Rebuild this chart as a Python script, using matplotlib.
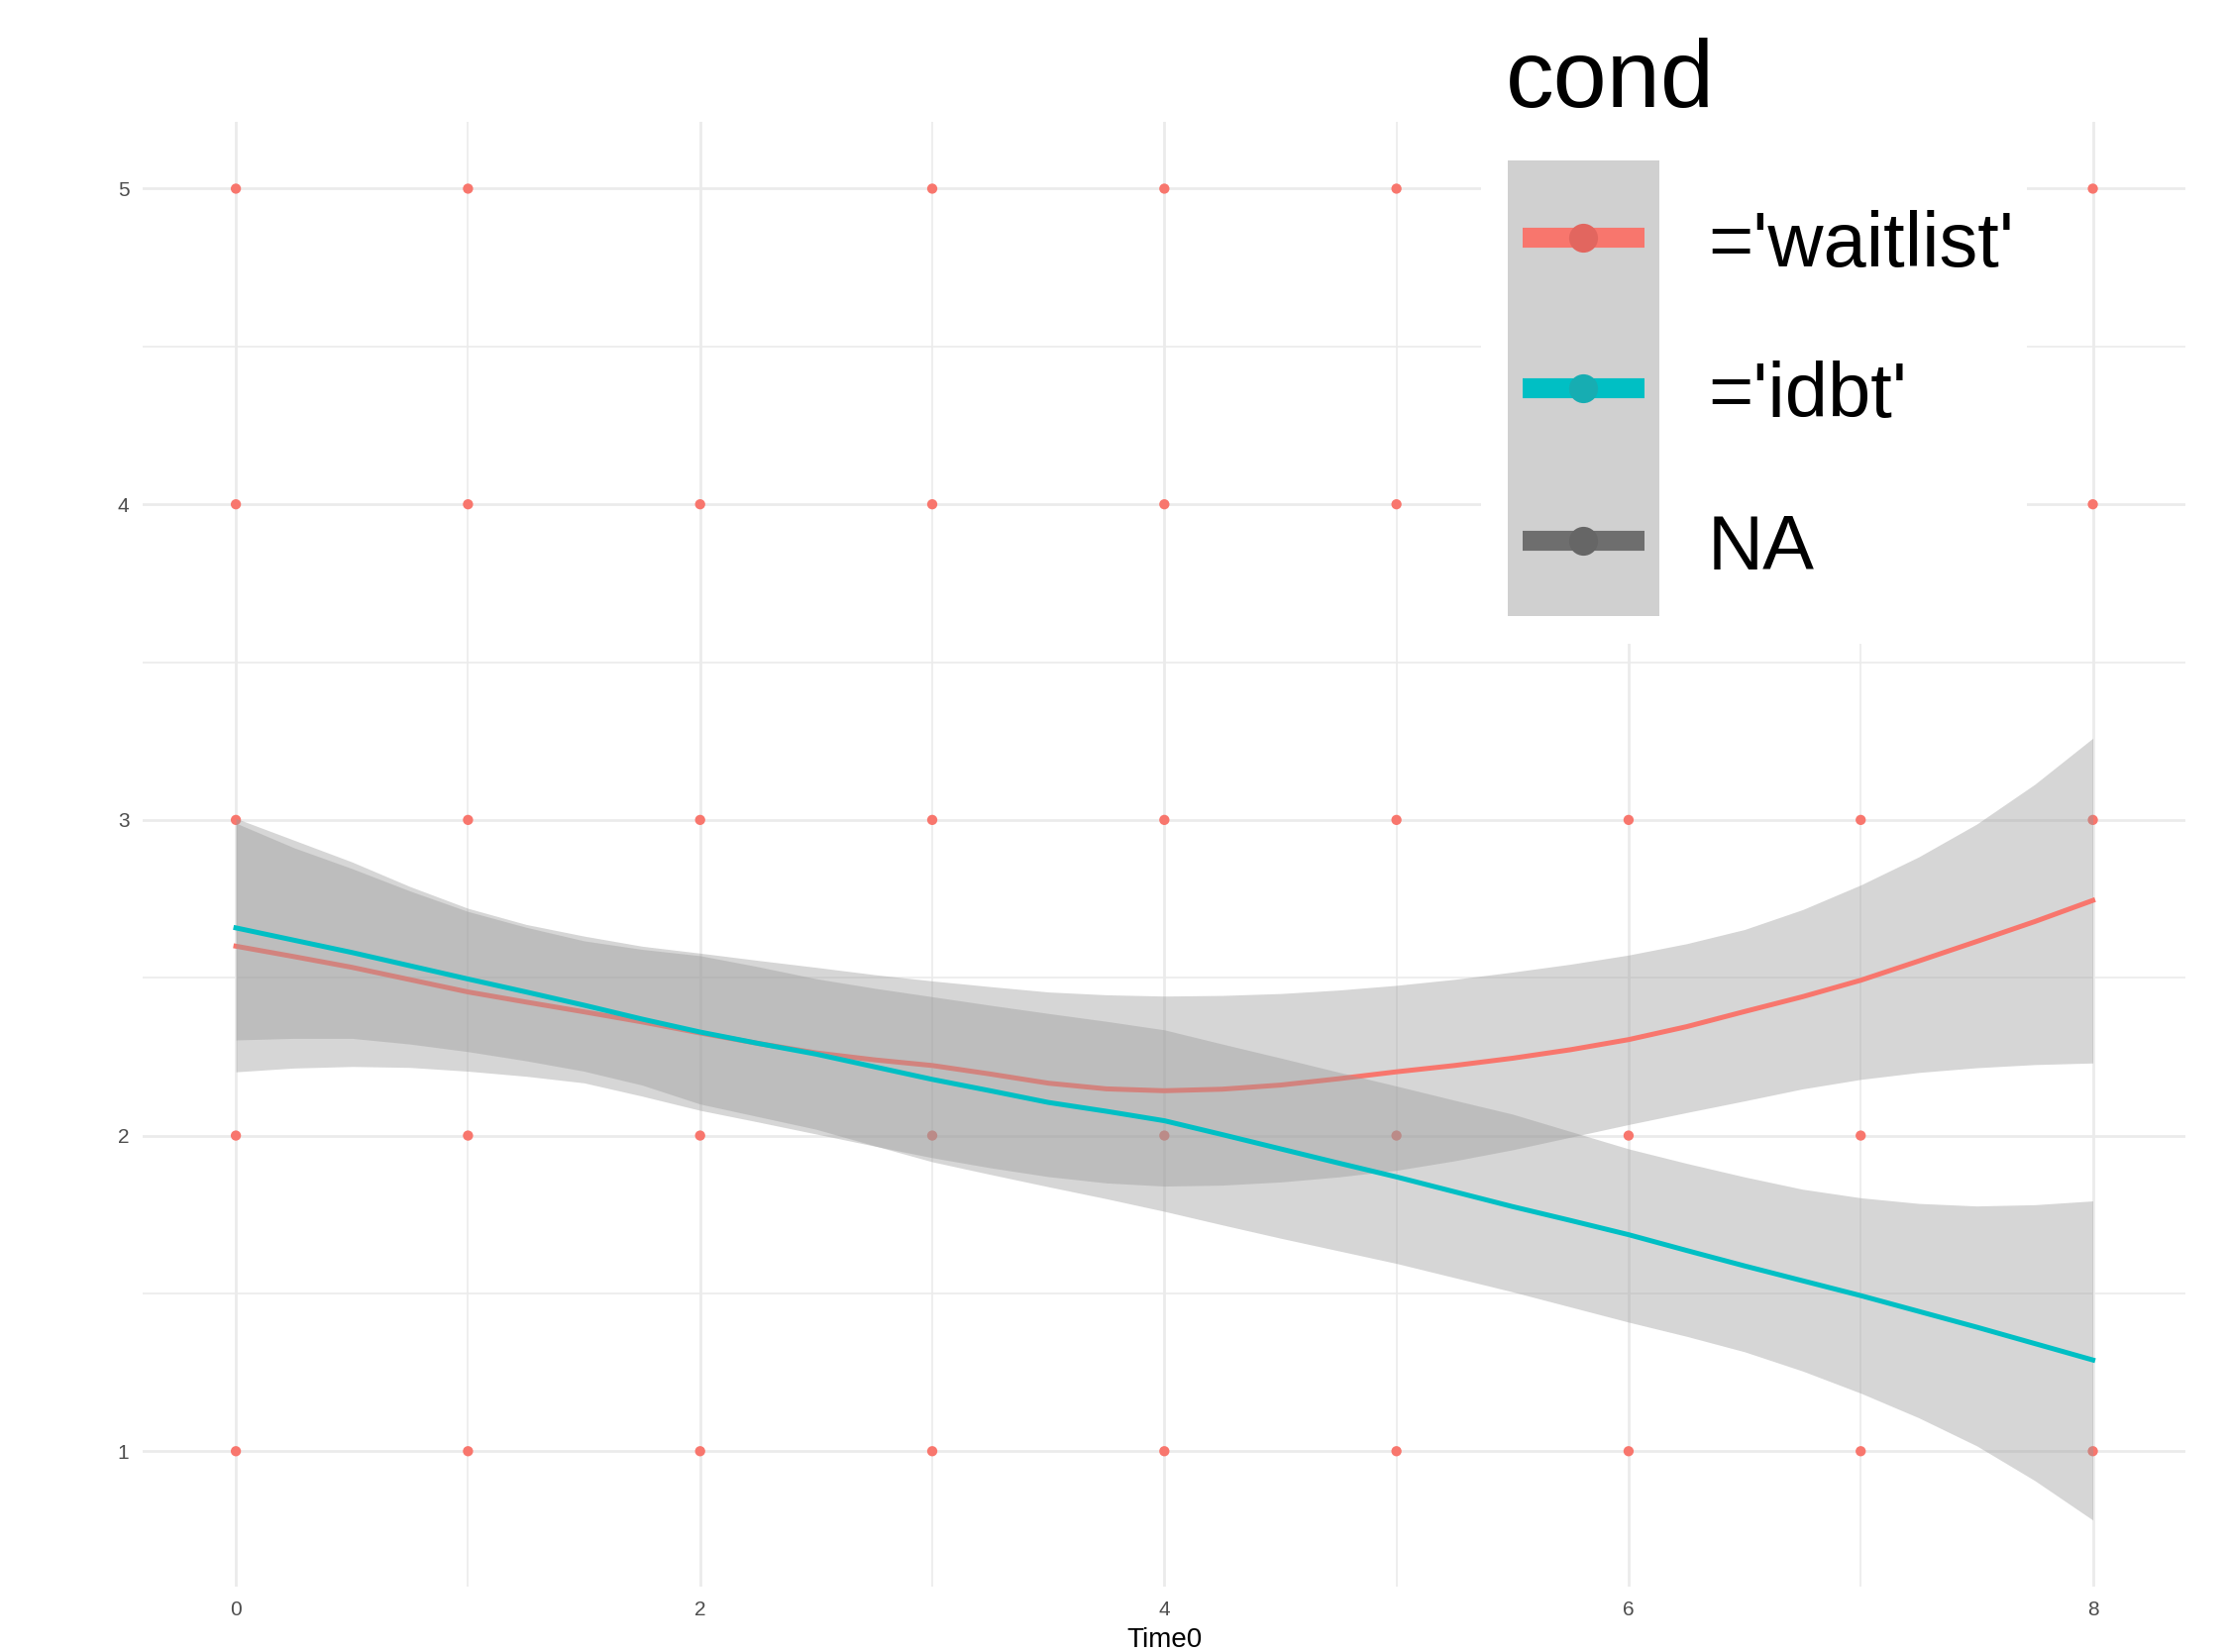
import numpy as np
import matplotlib
matplotlib.use("Agg")
import matplotlib.pyplot as plt
from matplotlib.patches import Rectangle
from matplotlib.lines import Line2D

plt.rcParams['font.family'] = ['Liberation Sans', 'DejaVu Sans']

# raw observations (only the ones visible in the picture)
point_x = [0, 1, 3, 4, 5, 8,
           0, 1, 2, 3, 4, 5, 8,
           0, 1, 2, 3, 4, 5, 6, 7, 8,
           0, 1, 2, 3, 4, 5, 6, 7,
           0, 1, 2, 3, 4, 5, 6, 7, 8]
point_y = [5, 5, 5, 5, 5, 5,
           4, 4, 4, 4, 4, 4, 4,
           3, 3, 3, 3, 3, 3, 3, 3, 3,
           2, 2, 2, 2, 2, 2, 2, 2,
           1, 1, 1, 1, 1, 1, 1, 1, 1]

# smoothed fits, every quarter step of Time0
time0 = [0, 0.25, 0.5, 0.75, 1, 1.25, 1.5, 1.75, 2, 2.25, 2.5, 2.75, 3,
         3.25, 3.5, 3.75, 4, 4.25, 4.5, 4.75, 5, 5.25, 5.5, 5.75, 6,
         6.25, 6.5, 6.75, 7, 7.25, 7.5, 7.75, 8]

waitlist_fit = [2.600, 2.567, 2.533, 2.494, 2.455, 2.423, 2.392, 2.360, 2.325,
                2.292, 2.262, 2.240, 2.222, 2.195, 2.166, 2.148, 2.142, 2.147,
                2.160, 2.180, 2.202, 2.222, 2.245, 2.272, 2.304, 2.345, 2.393,
                2.440, 2.492, 2.553, 2.615, 2.678, 2.745]
waitlist_hi = [3.005, 2.936, 2.867, 2.789, 2.720, 2.669, 2.632, 2.600, 2.578,
               2.555, 2.533, 2.510, 2.490, 2.472, 2.455, 2.446, 2.442, 2.444,
               2.450, 2.461, 2.476, 2.495, 2.518, 2.543, 2.572, 2.608, 2.653,
               2.716, 2.794, 2.883, 2.987, 3.113, 3.259]
waitlist_lo = [2.202, 2.214, 2.219, 2.216, 2.204, 2.188, 2.167, 2.125, 2.080,
               2.043, 2.005, 1.967, 1.930, 1.898, 1.870, 1.850, 1.840, 1.843,
               1.853, 1.869, 1.890, 1.920, 1.955, 1.995, 2.035, 2.073, 2.110,
               2.148, 2.178, 2.200, 2.215, 2.225, 2.230]

idbt_fit = [2.658, 2.619, 2.580, 2.538, 2.496, 2.455, 2.413, 2.369, 2.328,
            2.292, 2.258, 2.218, 2.178, 2.142, 2.105, 2.077, 2.047, 2.003,
            1.958, 1.913, 1.869, 1.822, 1.775, 1.731, 1.686, 1.636, 1.587,
            1.540, 1.493, 1.443, 1.393, 1.341, 1.289]
idbt_hi = [2.990, 2.912, 2.846, 2.775, 2.710, 2.660, 2.617, 2.590, 2.570,
           2.535, 2.497, 2.467, 2.440, 2.413, 2.387, 2.362, 2.335, 2.290,
           2.246, 2.201, 2.157, 2.112, 2.068, 2.013, 1.958, 1.912, 1.869,
           1.830, 1.803, 1.785, 1.777, 1.781, 1.793]
idbt_lo = [2.303, 2.308, 2.308, 2.290, 2.266, 2.237, 2.204, 2.160, 2.100,
           2.060, 2.020, 1.968, 1.917, 1.877, 1.838, 1.800, 1.760, 1.717,
           1.675, 1.635, 1.595, 1.550, 1.505, 1.457, 1.409, 1.364, 1.315,
           1.254, 1.184, 1.106, 1.017, 0.907, 0.782]

legend_labels = ["='waitlist'", "='idbt'", "NA"]
red = '#F8766D'
teal = '#00BFC4'
na_grey = '#6E6E6E'

W, H = 2249, 1668
fig = plt.figure(figsize=(W / 100, H / 100), dpi=100)
ax = fig.add_axes([0.0642, 0.0396, 0.9168, 0.8865])

# grid (ggplot minimal style)
for v in range(0, 9):
    major = (v % 2 == 0)
    ax.axvline(v, color='#EBEBEB', lw=2.0 if major else 1.2, zorder=0)
for v in np.arange(1, 5.01, 0.5):
    major = float(v).is_integer()
    ax.axhline(v, color='#EBEBEB', lw=2.0 if major else 1.2, zorder=0)

ax.scatter(point_x, point_y, s=55, color=red, edgecolor='none', zorder=1)

ax.fill_between(time0, waitlist_lo, waitlist_hi, color='#999999', alpha=0.4, lw=0, zorder=2)
ax.plot(time0, waitlist_fit, color=red, lw=3.6, zorder=2)
ax.fill_between(time0, idbt_lo, idbt_hi, color='#999999', alpha=0.4, lw=0, zorder=3)
ax.plot(time0, idbt_fit, color=teal, lw=3.6, zorder=3)

ymin = min(min(idbt_lo), min(waitlist_lo), min(point_y))
ymax = max(max(idbt_hi), max(waitlist_hi), max(point_y))
pad = 0.05 * (ymax - ymin)
ax.set_ylim(ymin - pad, ymax + pad)
ax.set_xlim(-0.4, 8.4)

ax.set_xticks([0, 2, 4, 6, 8])
ax.set_yticks([1, 2, 3, 4, 5])
ax.tick_params(length=0, labelsize=15, labelcolor='#4D4D4D', pad=10)
for s in ax.spines.values():
    s.set_visible(False)
ax.set_xlabel('Time0', fontsize=20, color='black', labelpad=6)

# legend drawn in pixel space on top of the panel
lax = fig.add_axes([0, 0, 1, 1], zorder=5)
lax.set_xlim(0, W)
lax.set_ylim(H, 0)
lax.axis('off')
lax.patch.set_alpha(0)
lax.add_patch(Rectangle((1495, 0), 551, 650, facecolor='white', edgecolor='none'))
lax.add_patch(Rectangle((1522, 162), 153, 460, facecolor='#D0D0D0', edgecolor='none'))
lax.text(1520, 108, 'cond', fontsize=70, va='baseline', ha='left')
rows = [240, 392, 546]
cols = [red, teal, na_grey]
dots = ['#E2665F', '#17ADB2', '#666666']
for yy, c, dc, lab in zip(rows, cols, dots, legend_labels):
    lax.add_line(Line2D([1537, 1660], [yy, yy], color=c, lw=14.5, solid_capstyle='butt'))
    lax.plot([1598], [yy], 'o', color=dc, markersize=21, markeredgewidth=0)
    lax.text(1724, yy + 29, lab, fontsize=56, va='baseline', ha='left')

fig.savefig('out.png', dpi=100)
